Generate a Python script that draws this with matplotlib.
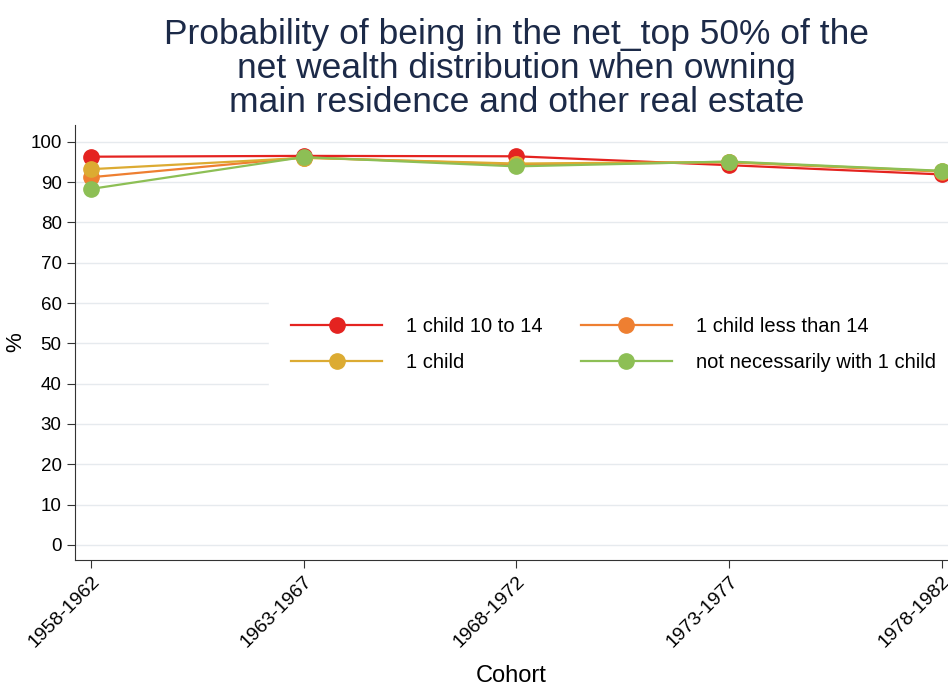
import matplotlib
matplotlib.use("Agg")
import matplotlib.pyplot as plt

plt.rcParams['font.family'] = ['Liberation Sans', 'DejaVu Sans']

cohorts = ["1958-1962", "1963-1967", "1968-1972", "1973-1977", "1978-1982"]
red_vals = [96.3, 96.5, 96.4, 94.2, 91.9]
orange_vals = [91.2, 96.1, 94.4, 94.9, 92.6]
yellow_vals = [93.2, 96.0, 94.6, 95.0, 92.7]
green_vals = [88.3, 96.2, 93.9, 95.1, 92.8]
labels = ["1 child 10 to 14", "1 child less than 14", "1 child", "not necessarily with 1 child"]
colors = ["#e42320", "#ee7f31", "#dcab32", "#8dbf55"]

fig = plt.figure(figsize=(9.48, 6.86), dpi=100)
ax = fig.add_axes([0.079, 0.184, 0.921, 0.634])

x = list(range(len(cohorts)))
handles = []
for vals, lab, c in zip([red_vals, orange_vals, yellow_vals, green_vals], labels, colors):
    h, = ax.plot(x, vals, color=c, lw=1.6, marker='o', ms=11, label=lab, clip_on=False, zorder=3)
    handles.append(h)

ax.set_xlim(-0.075, 4.03)
ax.set_ylim(-3.7, 104.2)
ax.set_yticks(range(0, 101, 10))
ax.set_xticks(x)
ax.set_xticklabels(cohorts, rotation=45, ha='right', rotation_mode='anchor', fontsize=14)
ax.tick_params(axis='y', labelsize=13.5, length=6, color='#333333')
ax.tick_params(axis='x', length=6, color='#333333')
ax.grid(axis='y', color='#e6eaee', lw=1)
ax.set_axisbelow(True)
for s in ['top', 'right']:
    ax.spines[s].set_visible(False)
ax.spines['left'].set_color('#333333')
ax.spines['bottom'].set_color('#333333')

ax.set_ylabel('%', fontsize=16, labelpad=3)
ax.set_xlabel('Cohort', fontsize=17, labelpad=10)

order = [0, 2, 1, 3]
leg = ax.legend(handles=[handles[i] for i in order], labels=[labels[i] for i in order],
                ncol=2, loc='center', bbox_to_anchor=(0.617, 0.494),
                frameon=True, fontsize=14.5, handlelength=4.5, columnspacing=1.9,
                borderpad=0.8, labelspacing=0.85, handletextpad=1.2)
leg.get_frame().set_facecolor('white')
leg.get_frame().set_edgecolor('white')
leg.get_frame().set_alpha(1)
leg.get_frame().set_boxstyle('square')

fig.text(0.545, 0.9, "Probability of being in the net_top 50% of the\nnet wealth distribution when owning\nmain residence and other real estate",
         fontsize=25.5, color='#1c2a48', ha='center', va='center', linespacing=1.04)

fig.savefig('out.png', dpi=100)
